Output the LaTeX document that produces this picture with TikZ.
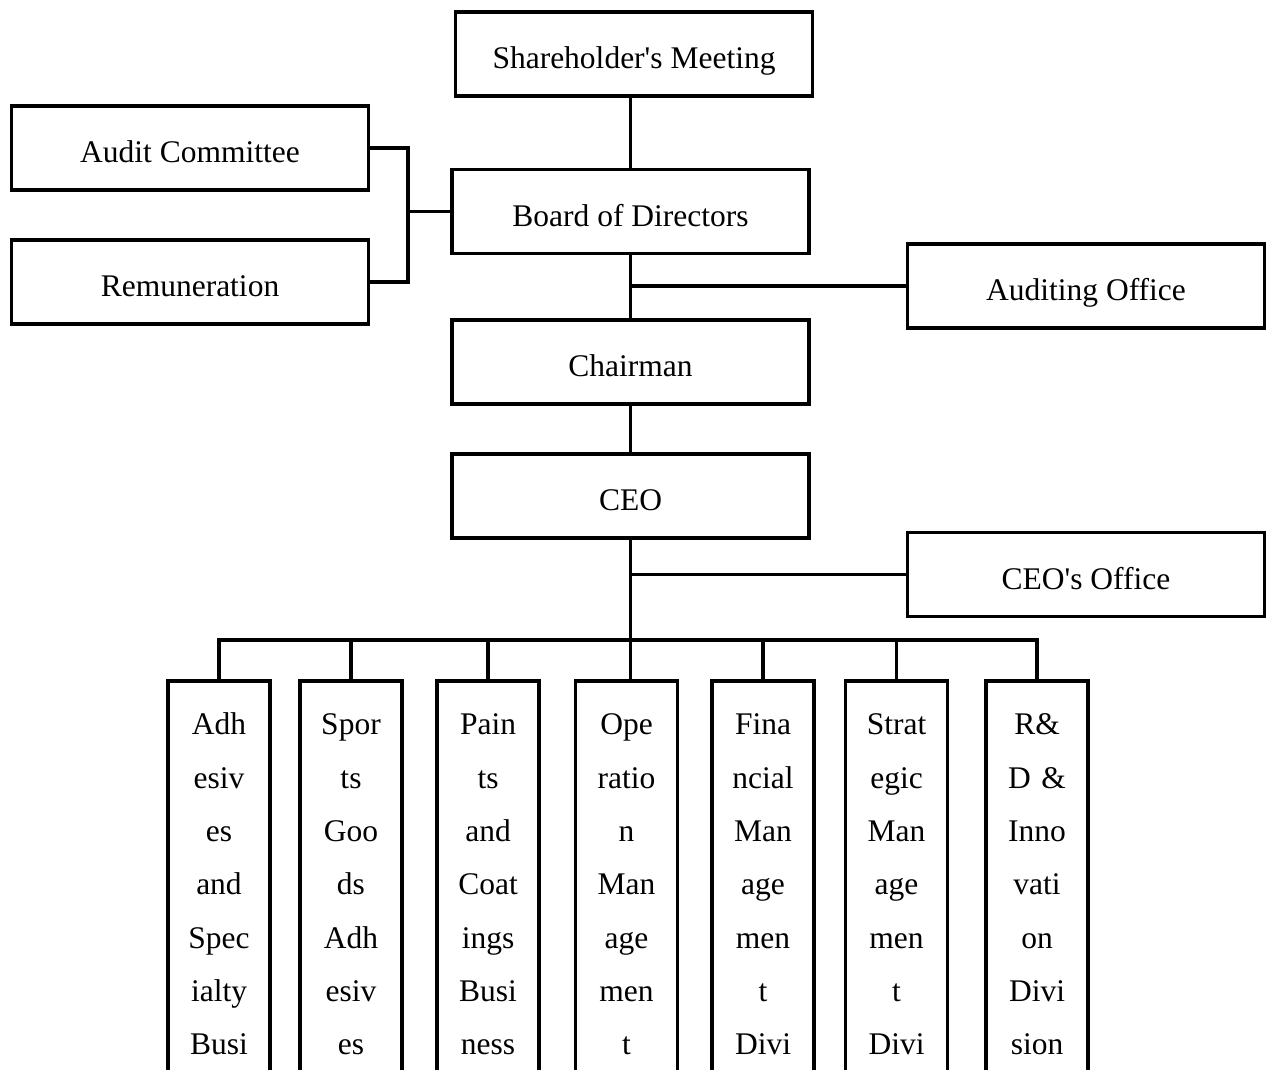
\documentclass[tikz,border=0pt]{standalone}
\usepackage{fontspec}
\setmainfont{Liberation Serif}
\usetikzlibrary{calc}
\begin{document}
\begin{tikzpicture}[x=1pt,y=-1pt,
  line width=3.6pt,
  every node/.style={font=\fontsize{31.5}{53.3}\selectfont},
  unitbox/.style={draw, rectangle, inner sep=0pt, minimum width=357pt, minimum height=84pt,
    text height=29pt, text depth=0pt},
  colbox/.style={draw, rectangle, inner sep=0pt, minimum width=102pt, minimum height=460pt, anchor=north},
  coltext/.style={inner sep=0pt, text width=100pt, align=center, anchor=north},
  link/.style={line cap=rect}
]
\useasboundingbox (0,0) rectangle (1268,1070);
\clip (0,0) rectangle (1268,1070);

% top of the hierarchy
\node[unitbox] (sh)    at (634,54)   {Shareholder\textquotesingle s Meeting};
\node[unitbox] (audc)  at (190,148)  {Audit Committee};
\node[unitbox] (rem)   at (190,282)  {Remuneration};
\node[unitbox] (board) at (630.5,211.5) {Board of Directors};
\node[unitbox] (aud)   at (1086,286) {Auditing Office};
\node[unitbox] (chair) at (630.5,362) {Chairman};
\node[unitbox] (ceo)   at (630.5,496) {CEO};
\node[unitbox] (ceoo)  at (1086,574.5) {CEO\textquotesingle s Office};

% divisions
\node[colbox] (c1) at (219,679)  {};
\node[colbox] (c2) at (351,679)  {};
\node[colbox] (c3) at (488,679)  {};
\node[colbox] (c4) at (626.5,679) {};
\node[colbox] (c5) at (763,679)  {};
\node[colbox] (c6) at (896.5,679) {};
\node[colbox] (c7) at (1037,679) {};

\node[coltext] (t1) at (c1.north) {\rule{0pt}{54pt}Adh\\esiv\\es\\and\\Spec\\ialty\\Busi};
\node[coltext] (t2) at (c2.north) {\rule{0pt}{54pt}Spor\\ts\\Goo\\ds\\Adh\\esiv\\es};
\node[coltext] (t3) at (c3.north) {\rule{0pt}{54pt}Pain\\ts\\and\\Coat\\ings\\Busi\\ness};
\node[coltext] (t4) at (c4.north) {\rule{0pt}{54pt}Ope\\ratio\\n\\Man\\age\\men\\t};
\node[coltext] (t5) at (c5.north) {\rule{0pt}{54pt}Fina\\ncial\\Man\\age\\men\\t\\Divi};
\node[coltext] (t6) at (c6.north) {\rule{0pt}{54pt}Strat\\egic\\Man\\age\\men\\t\\Divi};
\node[coltext] (t7) at (c7.north) {\rule{0pt}{54pt}R\&\\D \&\\Inno\\vati\\on\\Divi\\sion};

% committees joined to the board
\coordinate (jl) at ($(board.west)+(-42,0)$);
\draw (audc.east) -| (jl) |- (rem.east);
\draw (jl) -- (board.west);

% main chain
\draw (sh.south -| board.north) -- (board.north);
\draw (board.south) -- (chair.north);
\draw (board.south |- aud.west) -- (aud.west);
\draw (chair.south) -- (ceo.north);

\coordinate (bus) at (ceo.south |- 0,640);
\draw (ceo.south) -- (bus);
\draw (ceo.south |- ceoo.west) -- (ceoo.west);

% distribution bar to the divisions
\draw (c1.north) |- (c7.north |- bus) -- (c7.north);
\draw (c2.north) -- (c2.north |- bus);
\draw (c3.north) -- (c3.north |- bus);
\draw (bus) -- (bus |- c4.north);
\draw (c5.north) -- (c5.north |- bus);
\draw (c6.north) -- (c6.north |- bus);
\end{tikzpicture}
\end{document}
